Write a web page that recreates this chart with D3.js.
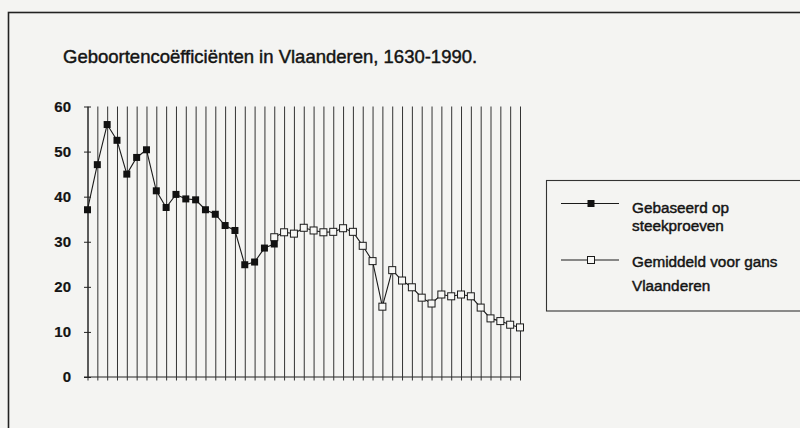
<!DOCTYPE html>
<html>
<head>
<meta charset="utf-8">
<script src="https://cdn.jsdelivr.net/npm/d3@7"></script>
<style>
  html, body { margin: 0; padding: 0; background: #f4f4f2; }
  svg { display: block; font-family: "Liberation Sans", Arial, sans-serif; }
  text { fill: #141414; stroke: #141414; stroke-width: 0.45px; }
</style>
</head>
<body>
<div id="chart"></div>
<script>
// 45 unlabeled periods on the x axis (1630-1990)
const periods = d3.range(45);
const yTicks = [0, 10, 20, 30, 40, 50, 60];

// Gebaseerd op steekproeven (periods 0-19)
const sampleStart = 0;
const sampleRates = [37.1, 47.1, 56.0, 52.5, 45.0, 48.7, 50.4, 41.3, 37.6, 40.5,
                     39.5, 39.3, 37.1, 36.1, 33.6, 32.5, 24.9, 25.5, 28.6, 29.5];

// Gemiddeld voor gans Vlaanderen (periods 19-44)
const avgStart = 19;
const avgRates = [31.0, 32.1, 31.8, 33.1, 32.5, 32.1, 32.2, 33.0, 32.2, 29.1,
                  25.7, 15.6, 23.7, 21.4, 19.9, 17.6, 16.3, 18.3, 17.9, 18.3,
                  17.9, 15.4, 13.0, 12.4, 11.6, 11.0];

const legendItems = [
  { lines: ["Gebaseerd op", "steekproeven"], filled: true },
  { lines: ["Gemiddeld voor gans", "Vlaanderen"], filled: false }
];

const width = 800, height = 428;
const svg = d3.select("#chart").append("svg")
  .attr("width", width)
  .attr("height", height);

// scanned page frame
svg.append("rect")
  .attr("x", 8.5).attr("y", 12.5)
  .attr("width", 820).attr("height", 500)
  .attr("fill", "none")
  .attr("stroke", "#222")
  .attr("stroke-width", 1.6);

svg.append("text")
  .attr("x", 63).attr("y", 63)
  .style("font-size", "18.5px")
  .text("Geboortencoëfficiënten in Vlaanderen, 1630-1990.");

const x = d3.scalePoint().domain(periods).range([87.5, 520]);
const y = d3.scaleLinear().domain([0, 60]).range([377, 106.5]);

// vertical grid lines + small ticks below the axis
const xAxis = svg.append("g")
  .attr("transform", `translate(0,${y(0)})`)
  .call(d3.axisBottom(x).tickFormat("").tickSizeOuter(0));
xAxis.selectAll(".tick line")
  .attr("y1", 3.5)
  .attr("y2", y(60) - y(0))
  .attr("stroke", "#333");
xAxis.select(".domain").attr("stroke", "#222").attr("d", `M84,0H520`);

const yAxis = svg.append("g")
  .attr("transform", `translate(${x(0)},0)`)
  .call(d3.axisLeft(y).tickValues(yTicks).tickSizeInner(3.5).tickSizeOuter(0).tickPadding(13));
yAxis.select(".domain").attr("stroke", "#222");
yAxis.selectAll(".tick line").attr("x1", 3.5).attr("stroke", "#222");
yAxis.selectAll(".tick text")
  .style("font-size", "15px")
  .style("font-weight", "bold")
  .style("font-family", "'Liberation Sans', Arial, sans-serif")
  .style("stroke-width", "0.2px")
  .attr("fill", "#141414");

const line = d3.line()
  .x(d => x(d.i))
  .y(d => y(d.v));

const sampleData = sampleRates.map((v, k) => ({ i: sampleStart + k, v }));
const avgData = avgRates.map((v, k) => ({ i: avgStart + k, v }));

[sampleData, avgData].forEach(data => {
  svg.append("path")
    .datum(data)
    .attr("d", line)
    .attr("fill", "none")
    .attr("stroke", "#1a1a1a")
    .attr("stroke-width", 1.1);
});

const ms = 7;
svg.append("g").selectAll("rect")
  .data(avgData)
  .join("rect")
  .attr("x", d => x(d.i) - ms / 2)
  .attr("y", d => y(d.v) - ms / 2)
  .attr("width", ms).attr("height", ms)
  .attr("fill", "#f7f7f5")
  .attr("stroke", "#1a1a1a")
  .attr("stroke-width", 1);

svg.append("g").selectAll("rect")
  .data(sampleData)
  .join("rect")
  .attr("x", d => x(d.i) - ms / 2)
  .attr("y", d => y(d.v) - ms / 2)
  .attr("width", ms).attr("height", ms)
  .attr("fill", "#111");

// legend
svg.append("rect")
  .attr("x", 546.5).attr("y", 180.5)
  .attr("width", 300).attr("height", 130.5)
  .attr("fill", "none")
  .attr("stroke", "#333")
  .attr("stroke-width", 1.1);

const legendRows = [
  { markY: 203.5, baselines: [213, 231] },
  { markY: 260, baselines: [266.5, 291] }
];

legendItems.forEach((item, k) => {
  const row = legendRows[k];
  const g = svg.append("g");
  g.append("line")
    .attr("x1", 561).attr("x2", 619)
    .attr("y1", row.markY).attr("y2", row.markY)
    .attr("stroke", "#1a1a1a");
  g.append("rect")
    .attr("x", 591 - 3.5).attr("y", row.markY - 3.5)
    .attr("width", 7).attr("height", 7)
    .attr("fill", item.filled ? "#111" : "#f7f7f5")
    .attr("stroke", "#1a1a1a")
    .attr("stroke-width", item.filled ? 0 : 1);
  item.lines.forEach((t, j) => {
    g.append("text")
      .attr("x", 632).attr("y", row.baselines[j])
      .style("font-size", "15.3px")
      .text(t);
  });
});
</script>
</body>
</html>
